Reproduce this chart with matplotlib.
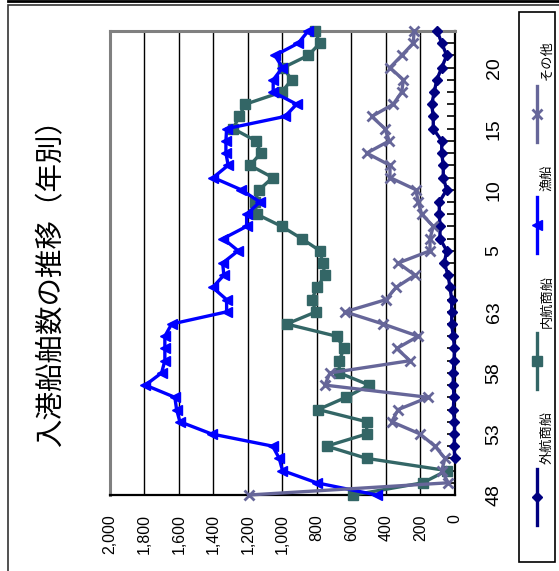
import numpy as np
import matplotlib
matplotlib.use("Agg")
from matplotlib import pyplot as plt
from matplotlib.lines import Line2D
from matplotlib.patches import Rectangle

plt.rcParams['font.family'] = ['Liberation Sans', 'Noto Sans CJK JP', 'DejaVu Sans']

# 昭和48〜63, 平成1〜23
years = [str(y) for y in range(48, 64)] + [str(y) for y in range(1, 24)]

# 外航商船 (starts at S51)
gaiko = [None, None, None, 2, 5, 3, 3, 10, 6, 10, 10, 6, 3, 10, 19, 19, 19, 29, 40, 62,
         48, 87, 87, 91, 91, 48, 68, 68, 77, 77, 126, 126, 135, 120, 106, 77, 48, 77, 103]
naiko = [590, 187, 48, 512, 744, 512, 512, 793, 632, 497, 671, 671, 644, 686, 976, 806,
         831, 799, 754, 767, 783, 889, 1005, 1150, 1160, 1135, 1057, 1189, 1125, 1154,
         1286, 1251, 1216, 1005, 947, 996, 851, 783, 812]
gyosen = [454, 802, 1000, 1019, 1057, 1411, 1595, 1614, 1624, 1795, 1701, 1682, 1682,
          1682, 1643, 1324, 1324, 1405, 1340, 1347, 1257, 1344, 1208, 1208, 1131, 1240,
          1402, 1315, 1328, 1328, 1324, 986, 918, 1054, 1054, 1000, 1044, 909, 851]
sonota = [1195, 39, 77, 58, 116, 203, 367, 329, 155, 754, 725, 261, 338, 213, 416, 638,
          400, 342, 232, 329, 145, 145, 126, 193, 213, 227, 377, 377, 512, 381, 406, 483,
          358, 309, 299, 377, 309, 242, 237]

series = [
    ("外航商船", gaiko, "#000080", "D", 5.5),
    ("内航商船", naiko, "#336666", "s", 6.5),
    ("漁船", gyosen, "#0000FF", "<", 7.5),
    ("その他", sonota, "#666699", "x", 7.5),
]

W, H = 559, 571
def fx(px):
    return px / W
def fy(py):
    return 1 - py / H

fig = plt.figure(figsize=(W / 100, H / 100), dpi=100)
ax = fig.add_axes([fx(110), fy(495), fx(455) - fx(110), fy(31) - fy(495)])

idx = np.arange(len(years))
for name, vals, col, mk, ms in series:
    v = np.array([np.nan if a is None else a for a in vals], dtype=float)
    ax.plot(v, idx, color=col, lw=2.4, marker=mk, ms=ms, mew=2 if mk == "x" else 1,
            mec=col, mfc=col, clip_on=False, zorder=3)

ax.set_xlim(2000, 0)
ax.set_ylim(0, len(years) - 1)

xt = np.arange(0, 2001, 200)
ax.set_xticks(xt)
ax.set_xticklabels([f"{v:,}" for v in xt], rotation=90, fontsize=11.5)
ax.tick_params(axis='x', length=0, pad=14)
ax.xaxis.grid(True, color='black', lw=1.0)
ax.set_axisbelow(True)

ax.yaxis.tick_right()
ax.set_yticks(idx)
ax.set_yticklabels([y if i % 5 == 0 else "" for i, y in enumerate(years)],
                   rotation=90, va='center', fontsize=14)
ax.tick_params(axis='y', direction='in', length=6, width=1.2, pad=22)

for s in ("top", "left"):
    ax.spines[s].set_color("#808080")
    ax.spines[s].set_linewidth(2.2)
for s in ("bottom", "right"):
    ax.spines[s].set_color("black")
    ax.spines[s].set_linewidth(1.6)

fig.text(fx(51), fy(276), "入港船舶数の推移（年別）", rotation=90, ha='center', va='center',
         fontsize=20.5, family=['Noto Sans CJK JP', 'DejaVu Sans'])

# outer frame
fig.add_artist(Line2D([fx(8), 1.0], [fy(1), fy(1)], color='black', lw=2))
fig.add_artist(Rectangle((fx(8), -0.1), 1.2, fy(5) + 0.1, fill=False, ec='#333333', lw=1.2))

# legend (drawn rotated like the chart)
fig.add_artist(Rectangle((fx(519), fy(562)), fx(555) - fx(519), fy(12) - fy(562),
                         fill=False, ec='black', lw=1.2))
leg_pos = [497, 361, 225, 114]
for (name, vals, col, mk, ms), py in zip(series, leg_pos):
    fig.add_artist(Line2D([fx(537), fx(537)], [fy(py + 28), fy(py - 28)], color=col, lw=2.4))
    fig.add_artist(Line2D([fx(537)], [fy(py)], color=col, marker=mk, ms=ms,
                          mew=2 if mk == "x" else 1, mec=col, mfc=col))
    tl = len(name) * 13
    fig.text(fx(547), fy(py - 34 - tl / 2), name, rotation=90, ha='center', va='center',
             fontsize=9.5, family=['Noto Sans CJK JP', 'DejaVu Sans'])

fig.savefig("out.png", dpi=100)
